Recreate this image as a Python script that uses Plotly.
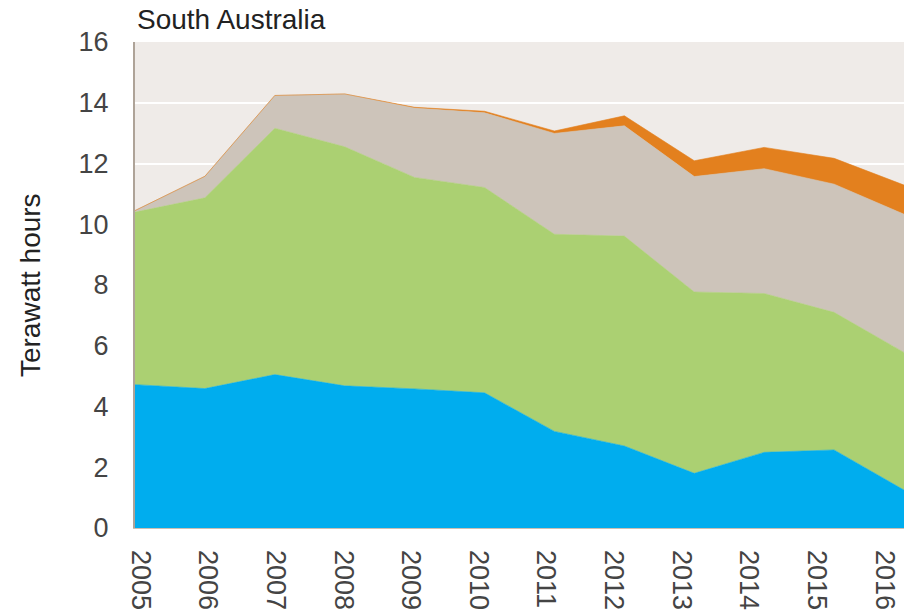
import plotly.graph_objs as go

# Dados (TWh), por camada, de baixo para cima
anos = [2005, 2006, 2007, 2008, 2009, 2010, 2011, 2012, 2013, 2014, 2015, 2016]
carvao = [4.72, 4.59, 5.05, 4.68, 4.58, 4.45, 3.18, 2.70, 1.80, 2.49, 2.57, 1.25]
gas = [5.68, 6.28, 8.11, 7.87, 6.96, 6.76, 6.49, 6.91, 5.97, 5.23, 4.53, 4.53]
vento = [0.05, 0.71, 1.08, 1.74, 2.29, 2.46, 3.32, 3.63, 3.80, 4.11, 4.22, 4.55]
solar = [0.0, 0.0, 0.0, 0.0, 0.02, 0.05, 0.08, 0.33, 0.52, 0.70, 0.85, 0.96]

titulo = 'South Australia'
yaxis_titulo = 'Terawatt hours'

camadas = [
    ('Coal', carvao, '#00adee'),
    ('Gas', gas, '#abd072'),
    ('Wind', vento, '#cdc4ba'),
    ('Solar', solar, '#e3801e'),
]

fig = go.Figure()
for nome, valores, cor in camadas:
    fig.add_trace(go.Scatter(
        x=anos, y=valores, name=nome, mode='lines', stackgroup='um',
        line=dict(width=0.6, color=cor), fillcolor=cor, showlegend=False
    ))

# eixo so para os rotulos dos anos (ficam um pouco deslocados no original)
fig.add_trace(go.Scatter(
    x=anos, y=carvao, xaxis='x2', mode='markers',
    marker=dict(opacity=0), hoverinfo='skip', showlegend=False
))

fonte = 'Liberation Sans, Arial, sans-serif'

fig.update_layout(
    width=904, height=613,
    margin=dict(l=135, r=0, t=42, b=85),
    paper_bgcolor='white',
    plot_bgcolor='#efebe8',
    font=dict(family=fonte, size=27, color='#444444'),
    xaxis=dict(
        range=[2005, 2016], showgrid=False, showticklabels=False,
        showline=True, linecolor='#cbbfb3', linewidth=1, zeroline=False,
        automargin=False
    ),
    xaxis2=dict(
        overlaying='x', anchor='y', side='bottom',
        range=[2004.92, 2016.29], tickmode='array', tickvals=anos,
        ticktext=[str(a) for a in anos], tickangle=90,
        showgrid=False, zeroline=False, ticklabelstandoff=21,
        tickfont=dict(size=27, color='#444444'), automargin=False
    ),
    yaxis=dict(
        range=[0, 16], tickmode='array', tickvals=list(range(0, 17, 2)),
        showgrid=True, gridcolor='white', gridwidth=1.5,
        showline=True, linecolor='#aea398', linewidth=2, zeroline=False,
        ticklabelstandoff=19, tickfont=dict(size=27, color='#444444'),
        automargin=False
    ),
    annotations=[
        dict(text=titulo, xref='paper', yref='paper', x=0, y=1,
             xanchor='left', yanchor='bottom', yshift=5, showarrow=False,
             font=dict(family=fonte, size=28, color='#222222')),
        dict(text=yaxis_titulo, xref='paper', yref='paper', x=-0.1365, y=0.5,
             xanchor='center', yanchor='middle', textangle=-90, showarrow=False,
             font=dict(family=fonte, size=28, color='#222222')),
    ],
)

# tira a margem padrao do body para a figura ocupar a janela toda
fig.write_html('out.html', config={'displayModeBar': False},
               post_script="document.body.style.margin='0';"
                           "document.body.style.overflow='hidden';")
